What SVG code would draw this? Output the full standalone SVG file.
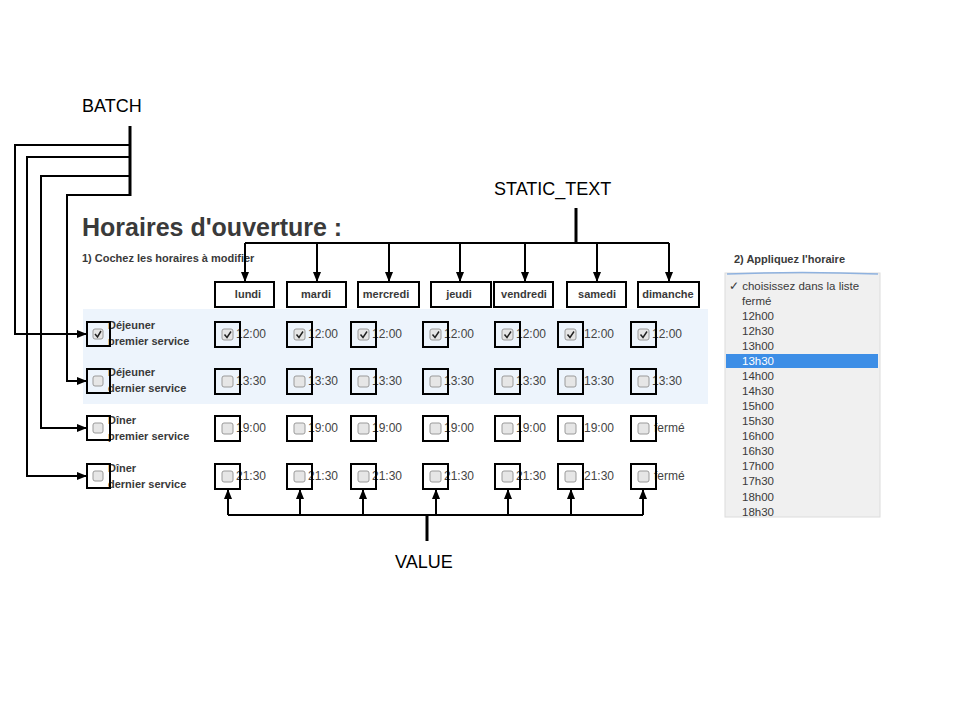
<svg xmlns="http://www.w3.org/2000/svg" width="960" height="720" viewBox="0 0 960 720">
<defs>
<style>
.lbl{font-family:"Liberation Sans",Arial,sans-serif;font-size:18px;fill:#000}
.ui{font-family:"Liberation Sans",Arial,sans-serif;fill:#3a3a3a}
.b{font-weight:bold}
.t{font-size:12px;fill:#444}
.rl{font-size:11px;font-weight:bold;fill:#3a3a3a}
.hd{font-size:11px;font-weight:bold;fill:#3a3a3a;text-anchor:middle}
.dd{font-size:11.5px;fill:#3a3a3a}
.frame{fill:none;stroke:#000;stroke-width:2}
.cb{fill:#e6e6e6;stroke:#9a9a9a;stroke-width:1}
.chk{fill:none;stroke:#222;stroke-width:1.5}
.con{fill:none;stroke:#000;stroke-width:2}
.stem{fill:none;stroke:#000;stroke-width:3}
</style>
<marker id="ah" viewBox="0 0 10 10" refX="10" refY="5" markerWidth="10" markerHeight="10" markerUnits="userSpaceOnUse" orient="auto">
<path d="M0,1 L10,5 L0,9 Z" fill="#000"/>
</marker>
</defs>
<rect width="960" height="720" fill="#fff"/>

<g id="page">
<rect x="83" y="309" width="625" height="95" fill="#edf4fc"/>
<text class="ui b" x="82" y="236" font-size="25">Horaires d'ouverture :</text>
<text class="ui b" x="82" y="262" font-size="11">1) Cochez les horaires à modifier</text>
</g>

<g id="labels">
<text class="lbl" x="82" y="112">BATCH</text>
<text class="lbl" x="494" y="195">STATIC_TEXT</text>
<text class="lbl" x="395" y="568">VALUE</text>
</g>

<g id="day-headers">
<g id="h-lundi"><rect class="frame" x="215" y="282" width="59" height="25"/><text class="ui hd" x="248" y="298">lundi</text></g>
<g id="h-mardi"><rect class="frame" x="287" y="282" width="59" height="25"/><text class="ui hd" x="316" y="298">mardi</text></g>
<g id="h-mercredi"><rect class="frame" x="358" y="282" width="61" height="25"/><text class="ui hd" x="386" y="298">mercredi</text></g>
<g id="h-jeudi"><rect class="frame" x="431" y="282" width="60" height="25"/><text class="ui hd" x="459" y="298">jeudi</text></g>
<g id="h-vendredi"><rect class="frame" x="494" y="282" width="59" height="25"/><text class="ui hd" x="524" y="298">vendredi</text></g>
<g id="h-samedi"><rect class="frame" x="567" y="282" width="59" height="25"/><text class="ui hd" x="597" y="298">samedi</text></g>
<g id="h-dimanche"><rect class="frame" x="638" y="282" width="61" height="25"/><text class="ui hd" x="668" y="298">dimanche</text></g>
</g>

<g id="row-labels">
<g id="r1">
<text class="ui rl" x="108" y="329">Déjeuner</text><text class="ui rl" x="108" y="345">premier service</text>
<rect class="cb" x="93" y="329" width="10" height="10" rx="2"/><path class="chk" d="M95,334 L97.5,337 L101,331"/>
<rect class="frame" x="87" y="322" width="23" height="24"/>
</g>
<g id="r2">
<text class="ui rl" x="108" y="376">Déjeuner</text><text class="ui rl" x="108" y="392">dernier service</text>
<rect class="cb" x="93" y="376" width="10" height="10" rx="2"/>
<rect class="frame" x="87" y="369" width="23" height="24"/>
</g>
<g id="r3">
<text class="ui rl" x="108" y="424">Dîner</text><text class="ui rl" x="108" y="440">premier service</text>
<rect class="cb" x="93" y="423" width="10" height="10" rx="2"/>
<rect class="frame" x="87" y="416" width="23" height="24"/>
</g>
<g id="r4">
<text class="ui rl" x="108" y="472">Dîner</text><text class="ui rl" x="108" y="488">dernier service</text>
<rect class="cb" x="93" y="471" width="10" height="10" rx="2"/>
<rect class="frame" x="87" y="464" width="23" height="24"/>
</g>
</g>

<g id="grid">
<g id="c11"><text class="ui t" x="236" y="338">12:00</text><rect class="cb" x="222" y="329" width="11" height="11" rx="2"/><path class="chk" d="M224.5,334.5 L227,337.5 L231,331.5"/><rect class="frame" x="215" y="322" width="25" height="25"/></g>
<g id="c12"><text class="ui t" x="308" y="338">12:00</text><rect class="cb" x="294" y="329" width="11" height="11" rx="2"/><path class="chk" d="M296.5,334.5 L299,337.5 L303,331.5"/><rect class="frame" x="287" y="322" width="25" height="25"/></g>
<g id="c13"><text class="ui t" x="372" y="338">12:00</text><rect class="cb" x="358" y="329" width="11" height="11" rx="2"/><path class="chk" d="M360.5,334.5 L363,337.5 L367,331.5"/><rect class="frame" x="351" y="322" width="25" height="25"/></g>
<g id="c14"><text class="ui t" x="444" y="338">12:00</text><rect class="cb" x="430" y="329" width="11" height="11" rx="2"/><path class="chk" d="M432.5,334.5 L435,337.5 L439,331.5"/><rect class="frame" x="423" y="322" width="25" height="25"/></g>
<g id="c15"><text class="ui t" x="516" y="338">12:00</text><rect class="cb" x="502" y="329" width="11" height="11" rx="2"/><path class="chk" d="M504.5,334.5 L507,337.5 L511,331.5"/><rect class="frame" x="495" y="322" width="25" height="25"/></g>
<g id="c16"><text class="ui t" x="584" y="338">12:00</text><rect class="cb" x="565" y="329" width="11" height="11" rx="2"/><path class="chk" d="M567.5,334.5 L570,337.5 L574,331.5"/><rect class="frame" x="558" y="322" width="25" height="25"/></g>
<g id="c17"><text class="ui t" x="652" y="338">12:00</text><rect class="cb" x="638" y="329" width="11" height="11" rx="2"/><path class="chk" d="M640.5,334.5 L643,337.5 L647,331.5"/><rect class="frame" x="631" y="322" width="25" height="25"/></g>
<g id="c21"><text class="ui t" x="236" y="385">13:30</text><rect class="cb" x="222" y="376" width="11" height="11" rx="2"/><rect class="frame" x="215" y="369" width="25" height="25"/></g>
<g id="c22"><text class="ui t" x="308" y="385">13:30</text><rect class="cb" x="294" y="376" width="11" height="11" rx="2"/><rect class="frame" x="287" y="369" width="25" height="25"/></g>
<g id="c23"><text class="ui t" x="372" y="385">13:30</text><rect class="cb" x="358" y="376" width="11" height="11" rx="2"/><rect class="frame" x="351" y="369" width="25" height="25"/></g>
<g id="c24"><text class="ui t" x="444" y="385">13:30</text><rect class="cb" x="430" y="376" width="11" height="11" rx="2"/><rect class="frame" x="423" y="369" width="25" height="25"/></g>
<g id="c25"><text class="ui t" x="516" y="385">13:30</text><rect class="cb" x="502" y="376" width="11" height="11" rx="2"/><rect class="frame" x="495" y="369" width="25" height="25"/></g>
<g id="c26"><text class="ui t" x="584" y="385">13:30</text><rect class="cb" x="565" y="376" width="11" height="11" rx="2"/><rect class="frame" x="558" y="369" width="25" height="25"/></g>
<g id="c27"><text class="ui t" x="652" y="385">13:30</text><rect class="cb" x="638" y="376" width="11" height="11" rx="2"/><rect class="frame" x="631" y="369" width="25" height="25"/></g>
<g id="c31"><text class="ui t" x="236" y="432">19:00</text><rect class="cb" x="222" y="423" width="11" height="11" rx="2"/><rect class="frame" x="215" y="416" width="25" height="25"/></g>
<g id="c32"><text class="ui t" x="308" y="432">19:00</text><rect class="cb" x="294" y="423" width="11" height="11" rx="2"/><rect class="frame" x="287" y="416" width="25" height="25"/></g>
<g id="c33"><text class="ui t" x="372" y="432">19:00</text><rect class="cb" x="358" y="423" width="11" height="11" rx="2"/><rect class="frame" x="351" y="416" width="25" height="25"/></g>
<g id="c34"><text class="ui t" x="444" y="432">19:00</text><rect class="cb" x="430" y="423" width="11" height="11" rx="2"/><rect class="frame" x="423" y="416" width="25" height="25"/></g>
<g id="c35"><text class="ui t" x="516" y="432">19:00</text><rect class="cb" x="502" y="423" width="11" height="11" rx="2"/><rect class="frame" x="495" y="416" width="25" height="25"/></g>
<g id="c36"><text class="ui t" x="584" y="432">19:00</text><rect class="cb" x="565" y="423" width="11" height="11" rx="2"/><rect class="frame" x="558" y="416" width="25" height="25"/></g>
<g id="c37"><text class="ui t" x="654" y="432">fermé</text><rect class="cb" x="638" y="423" width="11" height="11" rx="2"/><rect class="frame" x="631" y="416" width="25" height="25"/></g>
<g id="c41"><text class="ui t" x="236" y="480">21:30</text><rect class="cb" x="222" y="471" width="11" height="11" rx="2"/><rect class="frame" x="215" y="464" width="25" height="25"/></g>
<g id="c42"><text class="ui t" x="308" y="480">21:30</text><rect class="cb" x="294" y="471" width="11" height="11" rx="2"/><rect class="frame" x="287" y="464" width="25" height="25"/></g>
<g id="c43"><text class="ui t" x="372" y="480">21:30</text><rect class="cb" x="358" y="471" width="11" height="11" rx="2"/><rect class="frame" x="351" y="464" width="25" height="25"/></g>
<g id="c44"><text class="ui t" x="444" y="480">21:30</text><rect class="cb" x="430" y="471" width="11" height="11" rx="2"/><rect class="frame" x="423" y="464" width="25" height="25"/></g>
<g id="c45"><text class="ui t" x="516" y="480">21:30</text><rect class="cb" x="502" y="471" width="11" height="11" rx="2"/><rect class="frame" x="495" y="464" width="25" height="25"/></g>
<g id="c46"><text class="ui t" x="584" y="480">21:30</text><rect class="cb" x="565" y="471" width="11" height="11" rx="2"/><rect class="frame" x="558" y="464" width="25" height="25"/></g>
<g id="c47"><text class="ui t" x="654" y="480">fermé</text><rect class="cb" x="638" y="471" width="11" height="11" rx="2"/><rect class="frame" x="631" y="464" width="25" height="25"/></g>
</g>

<g id="dropdown">
<text class="ui b" x="734" y="263" font-size="11">2) Appliquez l'horaire</text>
<rect x="725" y="273" width="155" height="244" fill="#f0f0f0" stroke="#dcdcdc" stroke-width="1"/>
<path d="M727,274 Q802,271 878,274" fill="none" stroke="#8fb2df" stroke-width="1.5"/>
<rect x="726" y="354" width="152" height="14" fill="#3d8ee6"/>
<text class="ui dd" x="729" y="290">✓ choisissez dans la liste</text>
<text class="ui dd" x="742" y="305">fermé</text>
<text class="ui dd" x="742" y="320">12h00</text>
<text class="ui dd" x="742" y="335">12h30</text>
<text class="ui dd" x="742" y="350">13h00</text>
<text class="ui dd" x="742" y="365" style="fill:#fff">13h30</text>
<text class="ui dd" x="742" y="380">14h00</text>
<text class="ui dd" x="742" y="395">14h30</text>
<text class="ui dd" x="742" y="410">15h00</text>
<text class="ui dd" x="742" y="425">15h30</text>
<text class="ui dd" x="742" y="440">16h00</text>
<text class="ui dd" x="742" y="455">16h30</text>
<text class="ui dd" x="742" y="470">17h00</text>
<text class="ui dd" x="742" y="485">17h30</text>
<text class="ui dd" x="742" y="501">18h00</text>
<text class="ui dd" x="742" y="516">18h30</text>
</g>

<g id="connectors">
<path class="stem" d="M130,126 V196"/>
<path class="con" d="M130,145 H15 V334 H87" marker-end="url(#ah)"/>
<path class="con" d="M130,157 H27 V476 H87" marker-end="url(#ah)"/>
<path class="con" d="M130,176 H41 V428 H87" marker-end="url(#ah)"/>
<path class="con" d="M130,195 H67 V381 H87" marker-end="url(#ah)"/>
<path class="stem" d="M576,208 V244"/>
<path class="con" d="M245,243 H669"/>
<path class="con" d="M245,243 V282" marker-end="url(#ah)"/>
<path class="con" d="M317,243 V282" marker-end="url(#ah)"/>
<path class="con" d="M389,243 V282" marker-end="url(#ah)"/>
<path class="con" d="M460,243 V282" marker-end="url(#ah)"/>
<path class="con" d="M525,243 V282" marker-end="url(#ah)"/>
<path class="con" d="M597,243 V282" marker-end="url(#ah)"/>
<path class="con" d="M669,243 V282" marker-end="url(#ah)"/>
<path class="stem" d="M427,514 V541"/>
<path class="con" d="M228,515 H643"/>
<path class="con" d="M228,515 V489" marker-end="url(#ah)"/>
<path class="con" d="M300,515 V489" marker-end="url(#ah)"/>
<path class="con" d="M363,515 V489" marker-end="url(#ah)"/>
<path class="con" d="M436,515 V489" marker-end="url(#ah)"/>
<path class="con" d="M508,515 V489" marker-end="url(#ah)"/>
<path class="con" d="M571,515 V489" marker-end="url(#ah)"/>
<path class="con" d="M643,515 V489" marker-end="url(#ah)"/>
</g>
</svg>
